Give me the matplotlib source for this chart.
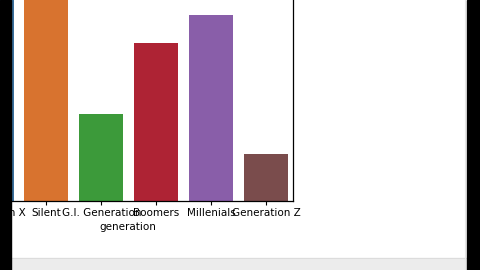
import matplotlib
matplotlib.use("Agg")
import matplotlib.pyplot as plt
from matplotlib.patches import Rectangle

categories = ["Generation X", "Silent", "G.I. Generation", "Boomers", "Millenials", "Generation Z"]
counts = [230, 215, 87, 158, 186, 47]
colors = ["#3a6f9c", "#d8732f", "#3c9a3a", "#ae2334", "#895ea9", "#7a4c4c"]

W, H = 480, 270
fig = plt.figure(figsize=(4.8, 2.7), dpi=100)
fig.patch.set_facecolor("white")

# axes placed so that the chart is cropped like the reference screenshot
ax = fig.add_axes([-35.9 / W, 69 / H, 329.4 / W, 240 / H])
x = list(range(len(categories)))
ax.bar(x, counts, width=0.8, color=colors)
ax.set_xlim(-0.5, len(categories) - 0.5)
ax.set_ylim(0, 240)
ax.set_xticks(x)
ax.set_xticklabels(categories, fontsize=7.5)
ax.tick_params(axis="x", length=3, pad=2)
ax.text(2.49, -0.087, "generation", transform=ax.get_xaxis_transform(),
        ha="center", va="top", fontsize=7.5)
for s in ax.spines.values():
    s.set_linewidth(0.9)

# screenshot frame
fig.add_artist(Rectangle((0, 0), 10.5 / W, 1, transform=fig.transFigure, color="black", zorder=10))
fig.add_artist(Rectangle((467 / W, 0), 13 / W, 1, transform=fig.transFigure, color="black", zorder=10))
fig.add_artist(Rectangle((10.5 / W, 0), 456.5 / W, 12 / H, transform=fig.transFigure,
                         color="#ececec", zorder=9))
fig.add_artist(plt.Line2D([10.5 / W, 467 / W], [12 / H, 12 / H], transform=fig.transFigure,
                          color="#dcdcdc", lw=0.8, zorder=9))
fig.add_artist(plt.Line2D([465 / W, 465 / W], [0, 1], transform=fig.transFigure,
                          color="#e6e6e6", lw=0.8, zorder=9))

fig.savefig("out.png", dpi=100)
